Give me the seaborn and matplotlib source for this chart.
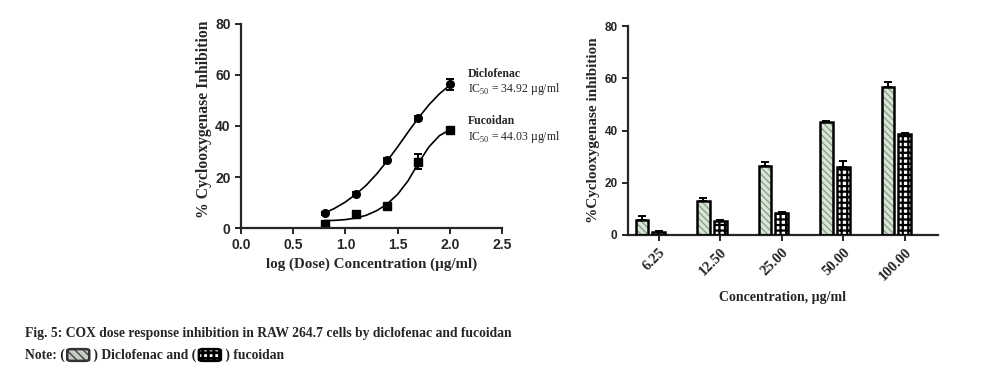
import numpy as np
import pandas as pd
import seaborn as sns
import matplotlib.pyplot as plt
from matplotlib.patches import Rectangle, FancyBboxPatch

# left panel: log dose response
log_dose = [0.8, 1.1, 1.4, 1.7, 2.0]
diclofenac_mean = [5.8, 13.2, 26.5, 43.0, 56.3]
diclofenac_err = [0.6, 0.8, 1.0, 1.0, 2.0]
fucoidan_mean = [1.5, 5.5, 8.8, 26.0, 38.5]
fucoidan_err = [0.5, 1.0, 0.8, 3.0, 0.8]

# fitted curves
curve_x = [0.8, 0.9, 1.0, 1.1, 1.2, 1.3, 1.4, 1.5, 1.6, 1.7, 1.8, 1.9, 2.0]
diclofenac_curve = [5.8, 7.8, 10.2, 13.2, 16.8, 21.2, 26.3, 31.8, 37.6, 43.2, 48.3, 52.6, 56.0]
fucoidan_curve = [2.9, 3.0, 3.3, 3.9, 5.0, 6.8, 9.4, 13.2, 18.5, 25.5, 31.8, 36.2, 38.5]

# right panel: bar chart
conc_labels = ["6.25", "12.50", "25.00", "50.00", "100.00"]
bar_diclofenac = [5.8, 13.2, 26.5, 43.2, 56.5]
bar_diclofenac_err = [1.5, 1.0, 1.5, 0.3, 2.2]
bar_fucoidan = [1.2, 5.5, 8.5, 26.0, 38.5]
bar_fucoidan_err = [0.3, 0.3, 0.4, 2.5, 0.5]

sns.set_style("ticks")
plt.rcParams["font.family"] = ["Liberation Serif", "DejaVu Serif"]
plt.rcParams["mathtext.fontset"] = "custom"
plt.rcParams["mathtext.rm"] = "Liberation Serif"
plt.rcParams["axes.linewidth"] = 1.6
plt.rcParams["xtick.major.width"] = 1.4
plt.rcParams["ytick.major.width"] = 1.4
plt.rcParams["xtick.major.size"] = 4
plt.rcParams["ytick.major.size"] = 4

serif = "Liberation Serif"
sans = "Liberation Sans"

fig = plt.figure(figsize=(10.02, 3.73), dpi=100)

# ---------- left panel ----------
ax1 = fig.add_axes([0.2405, 0.3887, 0.2605, 0.547])
sns.lineplot(x=curve_x, y=diclofenac_curve, color="black", lw=1.2, ax=ax1)
sns.lineplot(x=curve_x, y=fucoidan_curve, color="black", lw=1.2, ax=ax1)
ax1.errorbar(log_dose, diclofenac_mean, yerr=diclofenac_err, fmt="o", color="black",
             ms=5.5, capsize=3, elinewidth=1.4, capthick=1.4)
ax1.errorbar(log_dose, fucoidan_mean, yerr=fucoidan_err, fmt="s", color="black",
             ms=6, capsize=3, elinewidth=1.4, capthick=1.4)
ax1.set_xlim(0, 2.5)
ax1.set_ylim(0, 80)
ax1.set_xticks([0.0, 0.5, 1.0, 1.5, 2.0, 2.5])
ax1.set_xticklabels(["0.0", "0.5", "1.0", "1.5", "2.0", "2.5"], family=sans,
                    fontweight="bold", fontsize=10)
ax1.set_yticks([0, 20, 40, 60, 80])
ax1.set_yticklabels(["0", "20", "40", "60", "80"], family=sans, fontweight="bold", fontsize=10)
ax1.set_xlabel("log (Dose) Concentration (µg/ml)", family=serif, fontweight="bold",
               fontsize=10.8, labelpad=4)
ax1.set_ylabel("% Cyclooxygenase Inhibition", family=serif, fontweight="bold",
               fontsize=11.3, labelpad=1)
ax1.yaxis.set_label_coords(-0.112, 0.535)
sns.despine(ax=ax1)
ax1.set_facecolor("none")
ax1.text(2.17, 60.5, "Diclofenac", family=serif, fontweight="bold", fontsize=8.5,
         va="center", clip_on=False)
ax1.text(2.17, 54.5, "IC$_{50}$ = 34.92 µg/ml", family=serif, fontsize=8.5,
         va="center", clip_on=False)
ax1.text(2.17, 42.0, "Fucoidan", family=serif, fontweight="bold", fontsize=8.5,
         va="center", clip_on=False)
ax1.text(2.17, 35.5, "IC$_{50}$ = 44.03 µg/ml", family=serif, fontsize=8.5,
         va="center", clip_on=False)

# ---------- right panel ----------
ax2 = fig.add_axes([0.6267, 0.370, 0.3094, 0.560])
df = pd.DataFrame({
    "conc": conc_labels * 2,
    "value": bar_diclofenac + bar_fucoidan,
    "treatment": ["Diclofenac"] * 5 + ["Fucoidan"] * 5,
})
sns.barplot(data=df, x="conc", y="value", hue="treatment", order=conc_labels,
            hue_order=["Diclofenac", "Fucoidan"], palette=["#dbe6d8", "white"],
            width=0.552, gap=0.24, errorbar=None, legend=False, ax=ax2)

bars = sorted(ax2.patches, key=lambda p: p.get_x())
errs = []
for i in range(5):
    errs += [bar_diclofenac_err[i], bar_fucoidan_err[i]]
for k, p in enumerate(bars):
    if k % 2 == 0:
        p.set_hatch("\\\\\\\\\\")
        p.set_edgecolor("#86a686")
    else:
        p.set_hatch("+++")
        p.set_edgecolor("black")
        if hasattr(p, "set_hatch_linewidth"):
            p.set_hatch_linewidth(1.6)
    p.set_linewidth(0)
    ax2.add_patch(Rectangle((p.get_x(), 0), p.get_width(), p.get_height(), fill=False,
                            ec="black", lw=1.8, zorder=3))
centers = [p.get_x() + p.get_width() / 2 for p in bars]
heights = [p.get_height() for p in bars]
ax2.errorbar(centers, heights, yerr=[[0] * 10, errs], fmt="none", ecolor="black",
             elinewidth=1.4, capsize=3, capthick=1.4, zorder=4)

ax2.set_xlim(-0.366, 4.675)
ax2.set_ylim(0, 80)
ax2.set_xticks([i + 0.138 for i in range(5)])
ax2.set_xticklabels(conc_labels, rotation=45, ha="right", rotation_mode="anchor",
                    family=serif, fontweight="bold", fontsize=10.5)
ax2.set_yticks([0, 20, 40, 60, 80])
ax2.set_yticklabels(["0", "20", "40", "60", "80"], family=sans, fontweight="bold", fontsize=8.5)
ax2.set_xlabel("Concentration, µg/ml", family=serif, fontweight="bold", fontsize=10,
               labelpad=6)
ax2.set_ylabel("%Cyclooxygenase inhibition", family=serif, fontweight="bold",
               fontsize=11, labelpad=3)
sns.despine(ax=ax2)
ax2.set_facecolor("none")

# ---------- caption ----------
cap_kw = dict(family=serif, fontweight="bold", fontsize=9.8, va="center")
fig.text(0.025, 1 - 333 / 373, "Fig. 5: COX dose response inhibition in RAW 264.7 cells "
         "by diclofenac and fucoidan", **cap_kw)

renderer = fig.canvas.get_renderer()
y_note = 1 - 355 / 373
x_px = 25
icon_style = {
    "ICON1": dict(fc="#c4ccc4", hatch_color="#444444", hatch="\\\\\\\\", border="#333333"),
    "ICON2": dict(fc="white", hatch_color="black", hatch="+++", border="black"),
}
for piece in ["Note: ( ", "ICON1", " ) Diclofenac and ( ", "ICON2", " ) fucoidan"]:
    if piece.startswith("ICON"):
        w, h = 20, 11
        st = icon_style[piece]
        box = ((x_px / 1002, y_note - h / 2 / 373), w / 1002, h / 373)
        fill = FancyBboxPatch(*box, boxstyle="round,pad=0.001,rounding_size=0.004",
                              transform=fig.transFigure, fc=st["fc"], ec=st["hatch_color"],
                              hatch=st["hatch"], lw=0)
        if piece == "ICON2" and hasattr(fill, "set_hatch_linewidth"):
            fill.set_hatch_linewidth(2.0)
        edge = FancyBboxPatch(*box, boxstyle="round,pad=0.001,rounding_size=0.004",
                              transform=fig.transFigure, fill=False, ec=st["border"], lw=1.8)
        fig.add_artist(fill)
        fig.add_artist(edge)
        x_px += w + 2
    else:
        t = fig.text(x_px / 1002, y_note, piece, **cap_kw)
        x_px += t.get_window_extent(renderer).width

fig.savefig("out.png", dpi=100)
